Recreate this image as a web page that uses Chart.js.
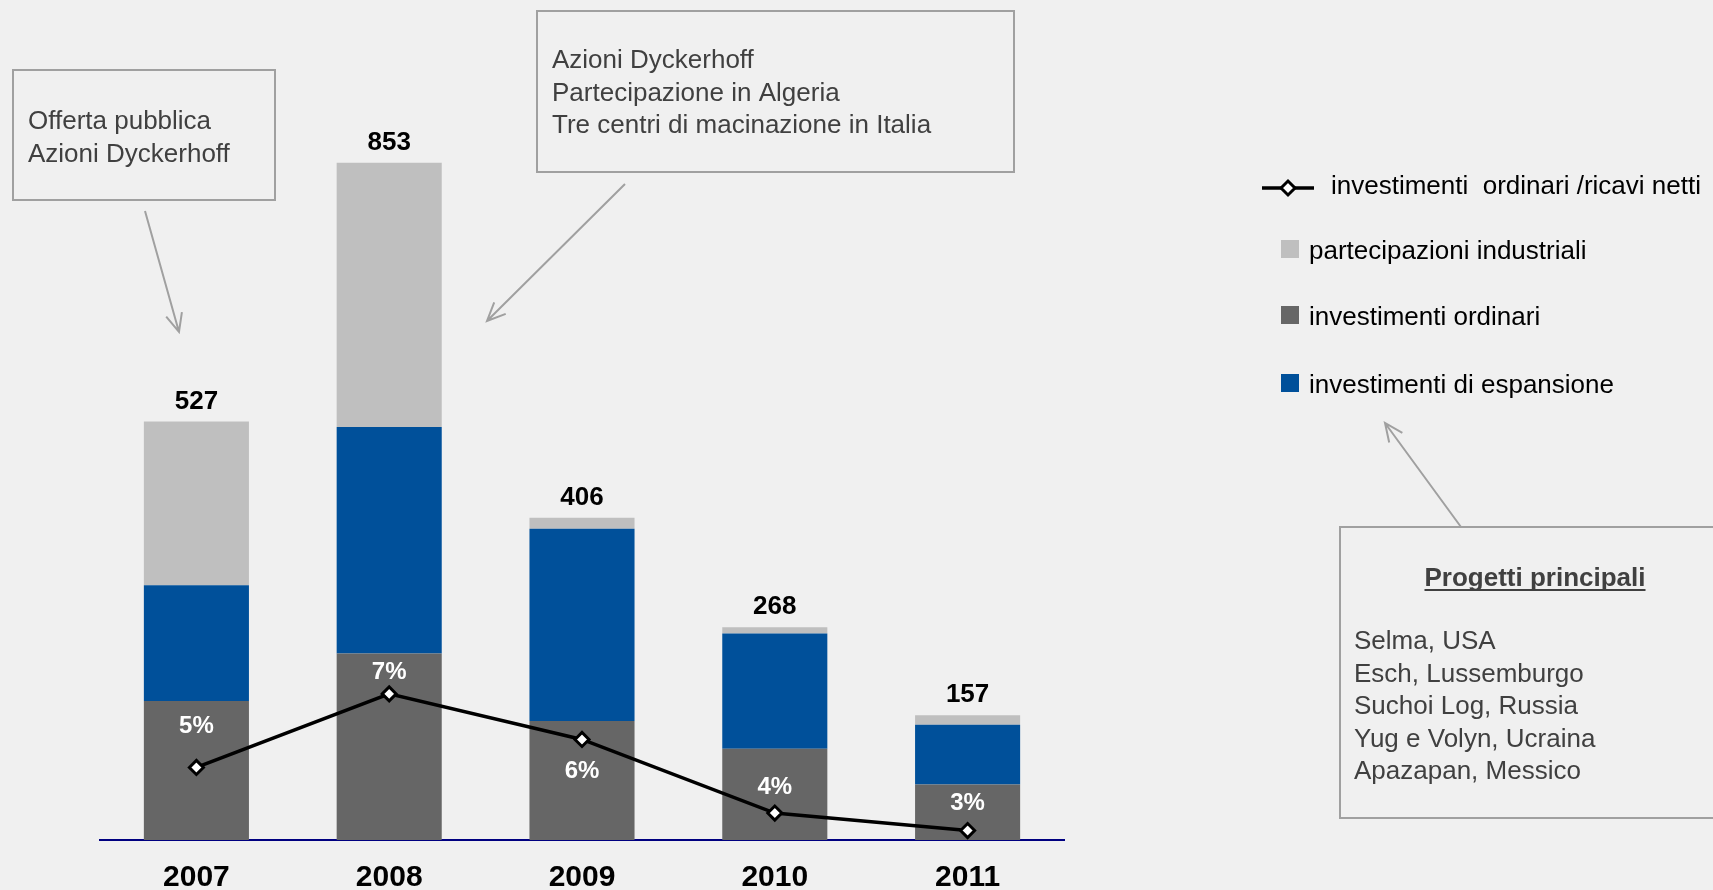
<!DOCTYPE html>
<html>
<head>
<meta charset="utf-8">
<title>Investimenti</title>
<script src="https://cdn.jsdelivr.net/npm/chart.js@4.4.1/dist/chart.umd.min.js"></script>
<style>
  html, body { margin: 0; padding: 0; background: #f0f0f0; }
  #wrap { width: 1713px; height: 890px; position: relative; }
</style>
</head>
<body>
<div id="wrap"><canvas id="invest-chart"></canvas></div>
<script>
var years = ['2007', '2008', '2009', '2010', '2011'];
var invOrdinari = [175, 235, 150, 115, 70];
var invEspansione = [146, 285, 242, 145, 75];
var partecipazioni = [206, 333, 14, 8, 12];
var ordinariSuRicavi = [4.9, 7.0, 5.7, 3.6, 3.1];

var note2007 = ['Offerta pubblica', 'Azioni Dyckerhoff'];
var note2008 = ['Azioni Dyckerhoff', 'Partecipazione in Algeria', 'Tre centri di macinazione in Italia'];
var progettiTitolo = 'Progetti principali';
var progetti = ['Selma, USA', 'Esch, Lussemburgo', 'Suchoi Log, Russia', 'Yug e Volyn, Ucraina', 'Apazapan, Messico'];

// baseline shift of the % labels from their point
var pctDy = [-34, -15, 39, -19, -21];

var FONT = '"Liberation Sans", Arial, sans-serif';
var BOX_GREY = '#a0a0a0';

function arrow(ctx, x1, y1, x2, y2){
  var a = Math.atan2(y2 - y1, x2 - x1);
  var len = 20, spread = 0.42;
  ctx.beginPath();
  ctx.moveTo(x1, y1);
  ctx.lineTo(x2, y2);
  ctx.moveTo(x2 - len * Math.cos(a - spread), y2 - len * Math.sin(a - spread));
  ctx.lineTo(x2, y2);
  ctx.lineTo(x2 - len * Math.cos(a + spread), y2 - len * Math.sin(a + spread));
  ctx.stroke();
}

function textBox(ctx, x, y, w, h, lines, tx, ty){
  ctx.strokeStyle = BOX_GREY;
  ctx.lineWidth = 2;
  ctx.strokeRect(x, y, w, h);
  ctx.fillStyle = '#404040';
  ctx.font = '26px ' + FONT;
  ctx.textAlign = 'left';
  ctx.textBaseline = 'alphabetic';
  for (var i = 0; i < lines.length; i++){
    ctx.fillText(lines[i], tx, ty + i * 32.5);
  }
}

var extras = {
  id: 'extras',
  afterDraw: function(chart){
    var ctx = chart.ctx;
    var ds = chart.data.datasets;
    var yScale = chart.scales.y;
    ctx.save();

    // totals above the bars
    var barMeta = chart.getDatasetMeta(1);
    ctx.fillStyle = '#000';
    ctx.font = 'bold 26px ' + FONT;
    ctx.textAlign = 'center';
    ctx.textBaseline = 'alphabetic';
    for (var i = 0; i < years.length; i++){
      var total = invOrdinari[i] + invEspansione[i] + partecipazioni[i];
      ctx.fillText(total, barMeta.data[i].x, yScale.getPixelForValue(total) - 13);
    }

    // percent labels
    var lineMeta = chart.getDatasetMeta(0);
    ctx.fillStyle = '#fff';
    ctx.font = 'bold 24px ' + FONT;
    for (var j = 0; j < ordinariSuRicavi.length; j++){
      var p = lineMeta.data[j];
      ctx.fillText(Math.round(ordinariSuRicavi[j]) + '%', p.x, p.y + pctDy[j]);
    }

    // legend
    ctx.textAlign = 'left';
    ctx.fillStyle = '#000';
    ctx.font = '26px ' + FONT;
    ctx.strokeStyle = '#000';
    ctx.lineWidth = 3.5;
    ctx.beginPath();
    ctx.moveTo(1262, 188);
    ctx.lineTo(1314, 188);
    ctx.stroke();
    ctx.beginPath();
    ctx.moveTo(1288 - 7, 188);
    ctx.lineTo(1288, 188 - 7);
    ctx.lineTo(1288 + 7, 188);
    ctx.lineTo(1288, 188 + 7);
    ctx.closePath();
    ctx.fillStyle = '#fff';
    ctx.fill();
    ctx.lineWidth = 3;
    ctx.stroke();
    ctx.fillStyle = '#000';
    ctx.fillText(ds[0].label, 1331, 194);

    var order = [3, 1, 2];
    var rowY = [249, 315, 383];
    for (var k = 0; k < order.length; k++){
      ctx.fillStyle = ds[order[k]].backgroundColor;
      ctx.fillRect(1281, rowY[k] - 9, 18, 18);
      ctx.fillStyle = '#000';
      ctx.fillText(ds[order[k]].label, 1309, rowY[k] + 10);
    }

    // callout boxes and arrows
    textBox(ctx, 13, 70, 262, 130, note2007, 28, 129);
    textBox(ctx, 537, 11, 477, 161, note2008, 552, 68);
    textBox(ctx, 1340, 527, 400, 291, progetti, 1354, 649);

    ctx.fillStyle = '#404040';
    ctx.font = 'bold 26px ' + FONT;
    ctx.textAlign = 'center';
    ctx.fillText(progettiTitolo, 1535, 586);
    var tw = ctx.measureText(progettiTitolo).width;
    ctx.fillRect(1535 - tw / 2, 589, tw, 2);

    ctx.strokeStyle = BOX_GREY;
    ctx.lineWidth = 2;
    arrow(ctx, 145, 211, 179, 332);
    arrow(ctx, 625, 184, 487, 321);
    arrow(ctx, 1461, 527, 1385, 423);

    ctx.restore();
  }
};

var ctx = document.getElementById('invest-chart');
var investChart = new Chart(ctx, {
  data: {
    labels: years,
    datasets: [
      {
        type: 'line',
        label: 'investimenti  ordinari /ricavi netti',
        data: ordinariSuRicavi,
        yAxisID: 'y2',
        borderColor: '#000',
        borderWidth: 3.5,
        pointStyle: 'rectRot',
        pointRadius: 7,
        pointBackgroundColor: '#fff',
        pointBorderColor: '#000',
        pointBorderWidth: 3,
        order: 0
      },
      {
        type: 'bar',
        label: 'investimenti ordinari',
        data: invOrdinari,
        backgroundColor: '#666666',
        yAxisID: 'y',
        order: 1
      },
      {
        type: 'bar',
        label: 'investimenti di espansione',
        data: invEspansione,
        backgroundColor: '#00509a',
        yAxisID: 'y',
        order: 1
      },
      {
        type: 'bar',
        label: 'partecipazioni industriali',
        data: partecipazioni,
        backgroundColor: '#bfbfbf',
        yAxisID: 'y',
        order: 1
      }
    ]
  },
  options: {
    responsive: true,
    maintainAspectRatio: false,
    animation: false,
    layout: { padding: { left: 100, right: 649, top: 46, bottom: -26 } },
    datasets: {
      bar: { categoryPercentage: 1, barPercentage: 0.545 }
    },
    plugins: {
      legend: { display: false },
      tooltip: { enabled: false }
    },
    scales: {
      x: {
        stacked: true,
        grid: { display: false, drawTicks: false },
        border: { display: true, color: '#000080', width: 2 },
        ticks: {
          color: '#000',
          padding: 23,
          font: { family: FONT, size: 30, weight: 'bold', lineHeight: 1 }
        }
      },
      y: { stacked: true, display: false, min: 0, max: 1000 },
      y2: { display: false, min: 2.83, max: 25.49 }
    }
  },
  plugins: [extras]
});
</script>
</body>
</html>
